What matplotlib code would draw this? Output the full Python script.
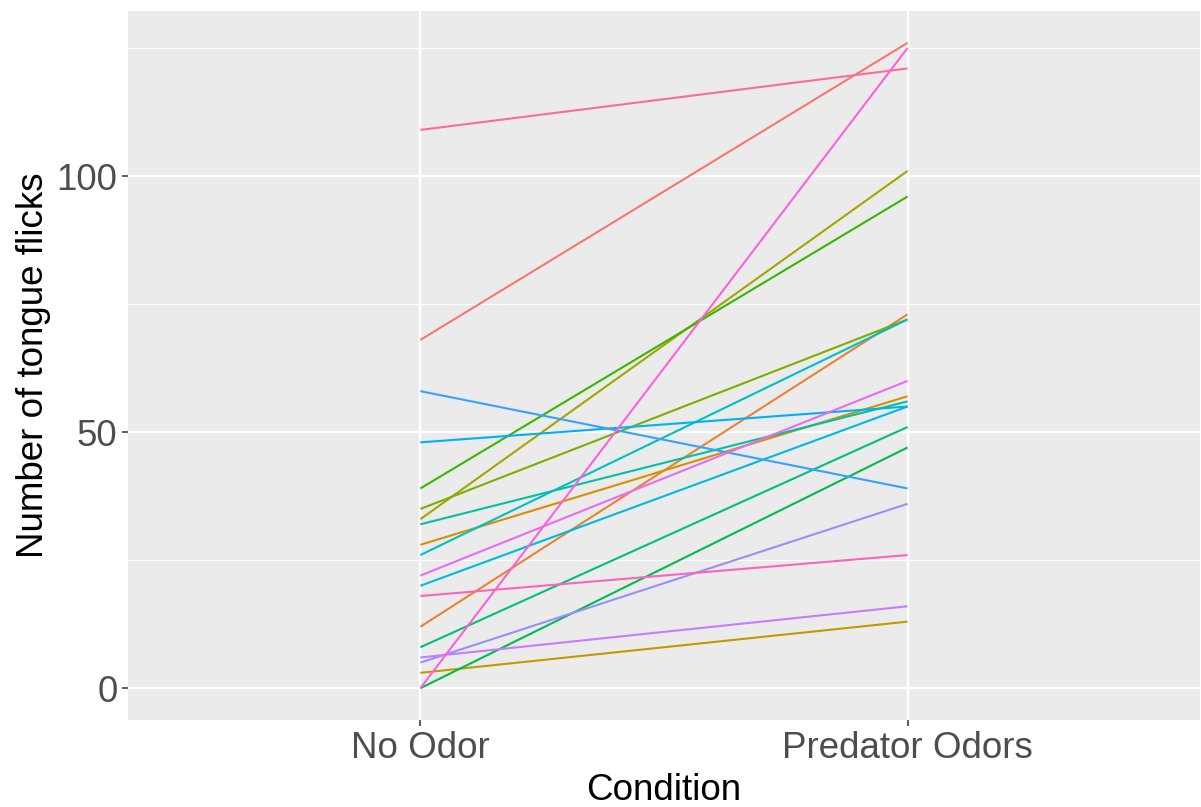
import numpy as np
import matplotlib
matplotlib.use("Agg")
import matplotlib.pyplot as plt

# Data: tongue flicks per subject, no odor vs predator odors
conditions = ["No Odor", "Predator Odors"]
no_odor = [68, 12, 28, 3, 33, 35, 39, 0, 8, 32, 26, 20, 48, 58, 5, 6, 22, 0, 18, 109]
predator = [126, 73, 57, 13, 101, 72, 96, 47, 51, 56, 72, 55, 55, 39, 36, 16, 60, 125, 26, 121]
colors = ["#F8766D", "#EA8331", "#D89000", "#C09B00", "#A3A500", "#7CAE00", "#39B600",
          "#00BB4E", "#00BF7D", "#00C1A3", "#00BFC4", "#00BAE0", "#00B0F6", "#35A2FF",
          "#9590FF", "#C77CFF", "#E76BF3", "#FA62DB", "#FF62BC", "#FF6A98"]

plt.rcParams['font.family'] = ['Liberation Sans', 'DejaVu Sans']

fig = plt.figure(figsize=(12.01, 8.07), dpi=100)
ax = fig.add_axes([0.1066, 0.1072, 0.8925, 0.8797])
ax.set_facecolor("#EBEBEB")

xpos = np.arange(1, len(conditions) + 1)
for a, b, c in zip(no_odor, predator, colors):
    ax.plot(xpos, [a, b], color=c, linewidth=1.5, solid_capstyle="butt")

allv = np.array(no_odor + predator)
lo, hi = allv.min(), allv.max()
pad = (hi - lo) * 0.05
ax.set_ylim(lo - pad, hi + pad)
ax.set_xlim(0.4, 2.6)

ax.set_xticks(xpos)
ax.set_xticklabels(conditions)
ax.set_yticks([0, 50, 100])
ax.set_yticks([25, 75, 125], minor=True)
ax.set_xticks([], minor=True)

ax.grid(which="major", color="white", linewidth=1.6)
ax.grid(which="minor", axis="y", color="white", linewidth=0.8)
ax.set_axisbelow(True)

for s in ax.spines.values():
    s.set_visible(False)

ax.tick_params(which="major", length=4.5, width=1.1, color="#333333",
               labelcolor="#4D4D4D", labelsize=26.5, pad=3)
ax.tick_params(which="minor", length=0)

ax.set_xlabel("Condition", fontsize=26.5, color="black", labelpad=5)
ax.set_ylabel("Number of tongue flicks", fontsize=26.5, color="black", labelpad=4)

fig.savefig("out.png", dpi=100)
